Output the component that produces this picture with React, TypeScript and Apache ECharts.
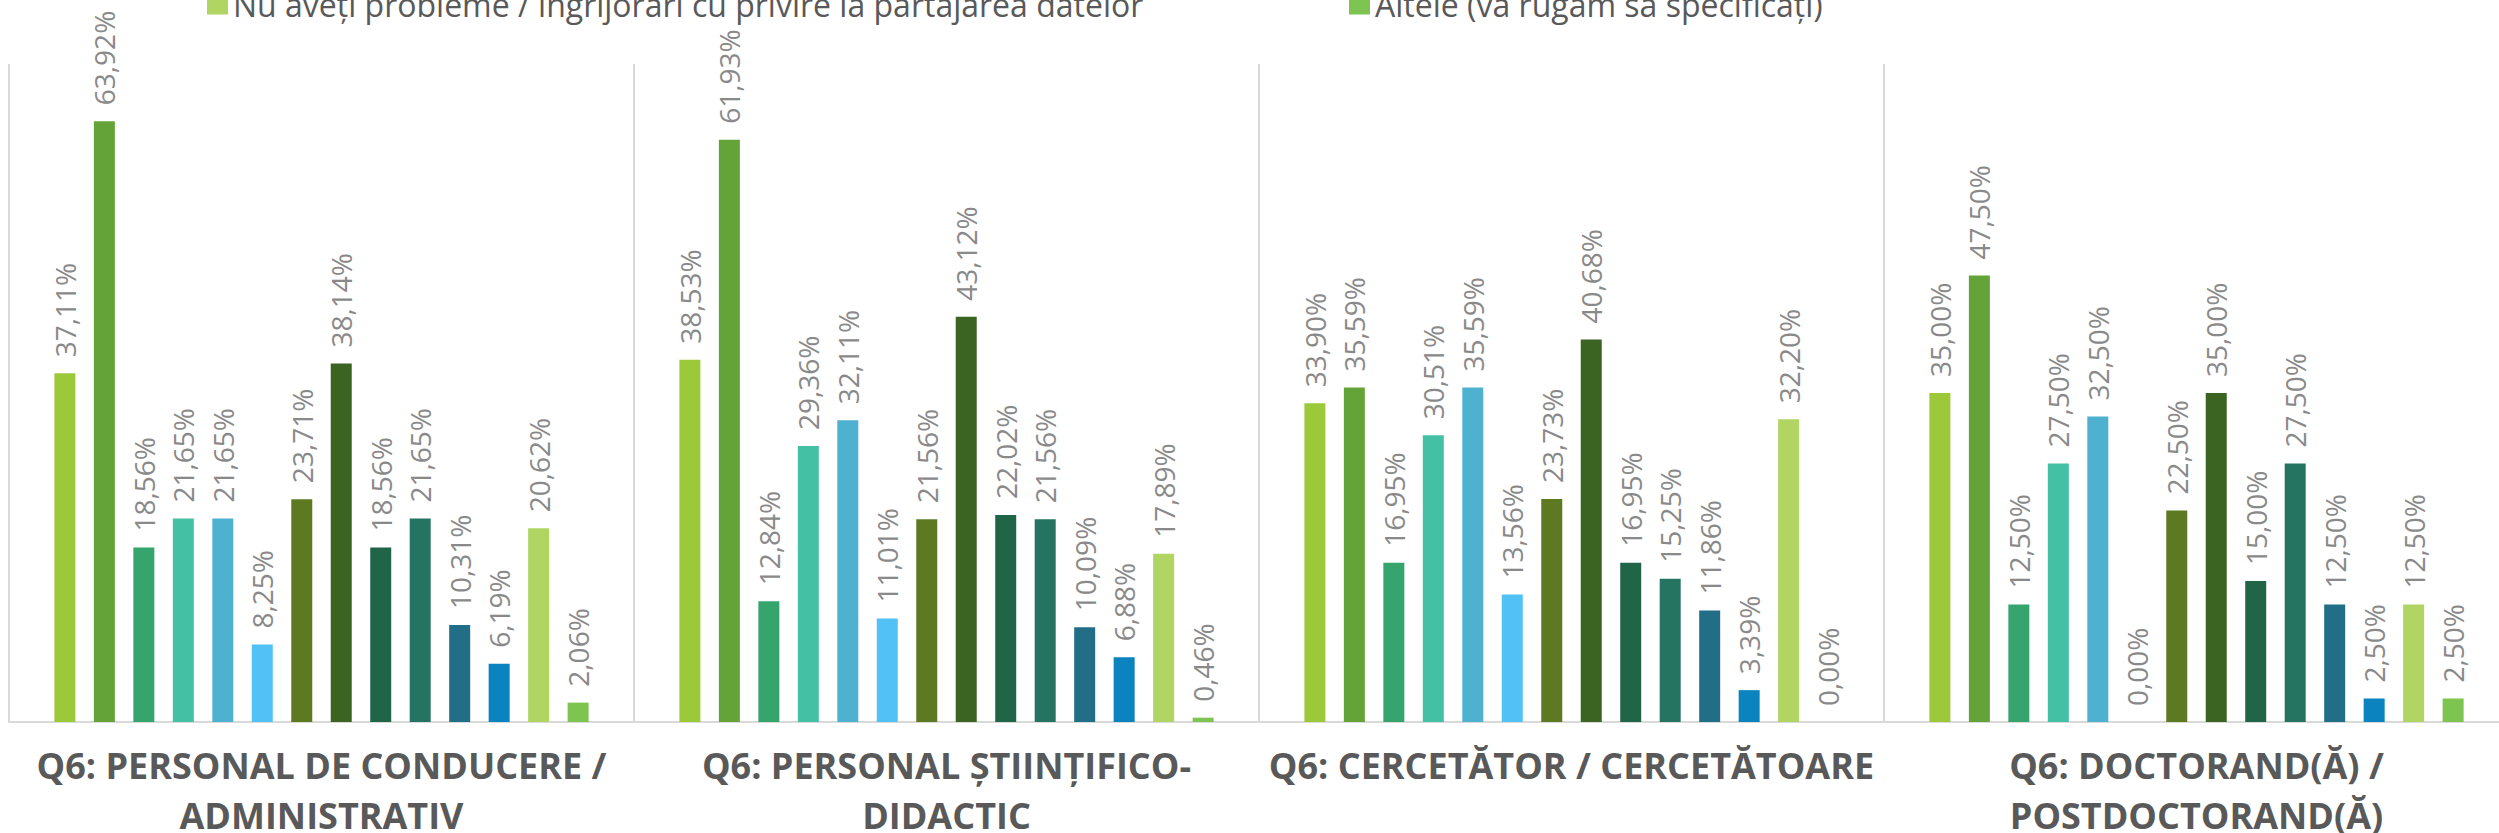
import React, { useEffect, useRef } from "react";
import * as echarts from "echarts";

const categories = [
  "Q6: PERSONAL DE CONDUCERE /\nADMINISTRATIV",
  "Q6: PERSONAL ȘTIINȚIFICO-\nDIDACTIC",
  "Q6: CERCETĂTOR / CERCETĂTOARE",
  "Q6: DOCTORAND(Ă) /\nPOSTDOCTORAND(Ă)",
];

// Legend rows above the last one are cropped out of the reference; only the last two names are visible.
const seriesNames = [
  "Opțiunea 1",
  "Opțiunea 2",
  "Opțiunea 3",
  "Opțiunea 4",
  "Opțiunea 5",
  "Opțiunea 6",
  "Opțiunea 7",
  "Opțiunea 8",
  "Opțiunea 9",
  "Opțiunea 10",
  "Opțiunea 11",
  "Opțiunea 12",
  "Nu aveți probleme / îngrijorări cu privire la partajarea datelor",
  "Altele (vă rugăm să specificați)",
];

const seriesColors = [
  "#9BC93A",
  "#64A338",
  "#36A46D",
  "#44C0A4",
  "#4FB1D0",
  "#52C1F5",
  "#5D7A22",
  "#3B6322",
  "#216548",
  "#257462",
  "#226E87",
  "#0A83BF",
  "#B0D563",
  "#7EC450",
];

// values per series, across the 4 categories
const s1 = [37.11, 38.53, 33.9, 35.0];
const s2 = [63.92, 61.93, 35.59, 47.5];
const s3 = [18.56, 12.84, 16.95, 12.5];
const s4 = [21.65, 29.36, 30.51, 27.5];
const s5 = [21.65, 32.11, 35.59, 32.5];
const s6 = [8.25, 11.01, 13.56, 0.0];
const s7 = [23.71, 21.56, 23.73, 22.5];
const s8 = [38.14, 43.12, 40.68, 35.0];
const s9 = [18.56, 22.02, 16.95, 15.0];
const s10 = [21.65, 21.56, 15.25, 27.5];
const s11 = [10.31, 10.09, 11.86, 12.5];
const s12 = [6.19, 6.88, 3.39, 2.5];
const s13 = [20.62, 17.89, 32.2, 12.5];
const s14 = [2.06, 0.46, 0.0, 2.5];

const seriesValues = [s1, s2, s3, s4, s5, s6, s7, s8, s9, s10, s11, s12, s13, s14];

const FONT = "'Open Sans', 'Noto Sans', sans-serif";

export default function App() {
  const ref = useRef<HTMLDivElement>(null);

  useEffect(() => {
    if (!ref.current) return;
    const chart = echarts.init(ref.current, undefined, { renderer: "svg" });
    const legendStyle = {
      orient: "horizontal",
      top: -17,
      itemWidth: 21,
      itemHeight: 21,
      itemGap: 10,
      icon: "rect",
      selectedMode: false,
      textStyle: {
        fontFamily: FONT,
        fontSize: 32,
        color: "#595959",
        padding: [0, 0, 0, 0],
      },
    };
    chart.setOption({
      animation: false,
      backgroundColor: "#ffffff",
      legend: [
        { ...legendStyle, left: 202, data: [seriesNames[12]] },
        { ...legendStyle, left: 1344, data: [seriesNames[13]] },
      ],
      grid: {
        left: 9,
        top: 64,
        width: 2500,
        height: 658,
        containLabel: false,
        outerBoundsMode: "none",
      },
      xAxis: {
        type: "category",
        data: categories,
        axisLine: { show: true, lineStyle: { color: "#D9D9D9", width: 2 } },
        axisTick: { show: false },
        splitLine: { show: true, interval: 0, lineStyle: { color: "#D9D9D9", width: 2 } },
        axisLabel: {
          interval: 0,
          margin: 18,
          fontFamily: FONT,
          fontWeight: "bold",
          fontSize: 36,
          lineHeight: 50,
          color: "#595959",
        },
      },
      yAxis: {
        type: "value",
        min: 0,
        max: 70,
        show: false,
        splitLine: { show: false },
      },
      series: seriesValues.map((vals, i) => ({
        type: "bar",
        name: seriesNames[i],
        data: vals,
        barWidth: 21,
        barGap: "88%",
        itemStyle: { color: seriesColors[i] },
        label: {
          show: true,
          position: "top",
          rotate: 90,
          align: "left",
          verticalAlign: "middle",
          distance: 16,
          fontFamily: FONT,
          fontSize: 28,
          color: "#898989",
          formatter: (p: any) => p.value.toFixed(2).replace(".", ",") + "%",
        },
      })),
    });
    return () => chart.dispose();
  }, []);

  return (
    <div
      ref={ref}
      style={{ position: "absolute", left: 0, top: 0, width: 2499, height: 833, background: "#fff" }}
    />
  );
}
